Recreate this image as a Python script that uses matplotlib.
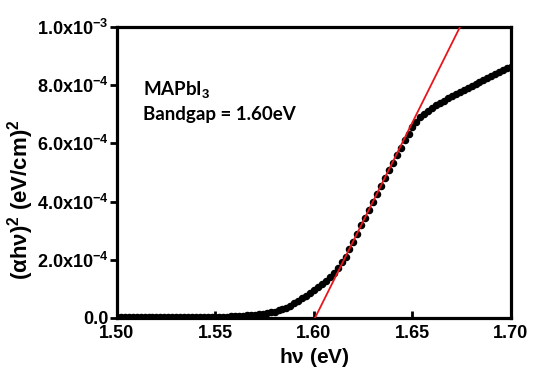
import numpy as np
import matplotlib
matplotlib.use("Agg")
import matplotlib.pyplot as plt

plt.rcParams['font.family'] = ['Liberation Sans', 'DejaVu Sans']
plt.rcParams['font.weight'] = 'bold'
plt.rcParams['mathtext.fontset'] = 'custom'
plt.rcParams['mathtext.rm'] = 'Liberation Sans:bold'
plt.rcParams['mathtext.default'] = 'rm'

# photon energy (eV), 2 meV steps
energy = np.round(np.arange(1.500, 1.7001, 0.002), 3)
# (alpha h nu)^2 in units of 1e-4 (eV/cm)^2
absorb = [
    0.02, 0.02, 0.02, 0.02, 0.02, 0.02, 0.02, 0.02, 0.03, 0.03,
    0.03, 0.03, 0.03, 0.03, 0.03, 0.03, 0.03, 0.03, 0.03, 0.03, 0.03,
    0.03, 0.03, 0.04, 0.04, 0.04, 0.04, 0.05, 0.05, 0.06, 0.06,
    0.07, 0.08, 0.09, 0.10, 0.11, 0.12, 0.14, 0.16, 0.19, 0.22,
    0.26, 0.30, 0.35, 0.41, 0.50, 0.59, 0.68, 0.77, 0.87, 0.97,
    1.07, 1.17, 1.28, 1.40, 1.56, 1.73, 1.91, 2.10, 2.36, 2.62,
    2.90, 3.18, 3.45, 3.72, 3.99, 4.26, 4.53, 4.80, 5.07, 5.33,
    5.59, 5.85, 6.10, 6.33, 6.55, 6.74, 6.90, 7.02, 7.12, 7.22,
    7.31, 7.39, 7.47, 7.55, 7.62, 7.70, 7.77, 7.84, 7.91, 7.98,
    8.05, 8.12, 8.19, 8.26, 8.33, 8.40, 8.46, 8.52, 8.58, 8.64,
]
absorb = np.array(absorb) * 1e-4

# linear fit of the absorption edge
fit_x = [1.6005, 1.6741]
fit_y = [0.0, 1.0e-3]

xticks = [1.50, 1.55, 1.60, 1.65, 1.70]
yticks = [0.0, 2e-4, 4e-4, 6e-4, 8e-4, 1e-3]
ylabels = ['0.0', r'2.0x10$^{-4}$', r'4.0x10$^{-4}$', r'6.0x10$^{-4}$',
           r'8.0x10$^{-4}$', r'1.0x10$^{-3}$']

fig = plt.figure(figsize=(5.33, 3.72), dpi=100)
ax = fig.add_axes([0.2195, 0.1452, 0.7392, 0.7822])

ax.plot(energy, absorb, 'o', color='black', markersize=4.4, zorder=2)
ax.plot(fit_x, fit_y, '-', color='#e8161b', linewidth=1.3, zorder=3)

ax.set_xlim(1.50, 1.70)
ax.set_ylim(0, 1.0e-3)
ax.set_xticks(xticks)
ax.set_xticklabels(['%.2f' % t for t in xticks])
ax.set_yticks(yticks)
ax.set_yticklabels(ylabels)

for s in ax.spines.values():
    s.set_linewidth(2.3)
ax.tick_params(axis='x', direction='in', length=5, width=2, labelsize=13, pad=5)
ax.tick_params(axis='y', direction='out', length=5, width=2, labelsize=13, pad=1)

ax.set_xlabel(r'h$\nu$ (eV)', fontsize=15, fontweight='bold', labelpad=3)
ax.set_ylabel('(\u03b1h\u03bd)$^{2}$ (eV/cm)$^{2}$', fontsize=16,
              fontweight='bold')
ax.yaxis.set_label_coords(-0.205, 0.405)

ax.text(1.5132, 7.66e-4, r'MAPbI$_{3}$', fontsize=13.5, fontweight='bold',
        family=['Lato', 'DejaVu Sans'], va='baseline', ha='left')
ax.text(1.5132, 6.80e-4, 'Bandgap = 1.60eV', fontsize=13.5, fontweight='bold',
        family=['Lato', 'DejaVu Sans'], va='baseline', ha='left')

fig.savefig('out.png', dpi=100)
